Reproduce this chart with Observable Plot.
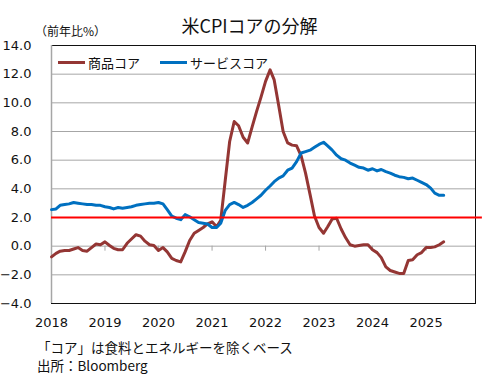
<!DOCTYPE html>
<html>
<head>
<meta charset="utf-8">
<script src="https://cdn.jsdelivr.net/npm/d3@7"></script>
<script src="https://cdn.jsdelivr.net/npm/@observablehq/plot@0.6"></script>
<style>
  html, body { margin: 0; padding: 0; background: #fff; }
  #wrap { position: relative; width: 499px; height: 381px; overflow: hidden;
          font-family: "DejaVu Sans", "Noto Sans CJK JP", sans-serif; color: #111; }
  .abs { position: absolute; white-space: nowrap; line-height: 1; }
  #title { left: 0; width: 499px; text-align: center; top: 16px; font-size: 18px; font-family: "Noto Sans CJK JP", sans-serif; }
  #unit { left: 35px; top: 25px; font-size: 12px; font-family: "Noto Sans CJK JP", sans-serif; }
  #cap1 { left: 37px; top: 341px; font-size: 13.5px; font-family: "Noto Sans CJK JP", sans-serif; }
  #cap2 { left: 37px; top: 359px; font-size: 13.5px; font-family: "Noto Sans CJK JP", "DejaVu Sans", sans-serif; }
  .leg { top: 56px; font-size: 13px; font-family: "Noto Sans CJK JP", sans-serif; display: flex; align-items: center; }
  .sw { display: inline-block; width: 27px; height: 3px; margin-right: 3px; }
</style>
</head>
<body>
<div id="wrap">
  <div id="chart"></div>
  <div class="abs" id="title">米CPIコアの分解</div>
  <div class="abs" id="unit">（前年比%）</div>
  <div class="abs leg" id="leg1" style="left:58px"><span class="sw" style="background:#943634"></span><span>商品コア</span></div>
  <div class="abs leg" id="leg2" style="left:160px"><span class="sw" style="background:#0070C0"></span><span>サービスコア</span></div>
  <div class="abs" id="cap1">「コア」は食料とエネルギーを除くベース</div>
  <div class="abs" id="cap2">出所：Bloomberg</div>
</div>
<script>
// Monthly data, Jan 2018 – May 2025 (year-over-year %)
const startMonth = "2018-01";
const endMonth = "2025-05";
const goodsCore = [
  -0.75, -0.5, -0.35, -0.3, -0.3, -0.2, -0.1, -0.3, -0.35, -0.1, 0.15, 0.1,
  0.3, 0.05, -0.15, -0.25, -0.25, 0.2, 0.5, 0.8, 0.7, 0.35, 0.1, 0.05,
  -0.3, -0.1, -0.4, -0.85, -1.0, -1.1, -0.4, 0.4, 0.9, 1.1, 1.3, 1.55,
  1.7, 1.35, 1.8, 4.6, 7.3, 8.7, 8.4, 7.6, 7.2, 8.3, 9.4, 10.4,
  11.5, 12.3, 11.6, 9.8, 8.0, 7.2, 7.05, 7.0, 6.3, 5.1, 3.6, 2.1,
  1.3, 0.9, 1.35, 1.9, 1.95, 1.2, 0.6, 0.1, 0.0, 0.05, 0.1, 0.1,
  -0.25, -0.45, -0.8, -1.45, -1.7, -1.8, -1.9, -1.9, -1.0, -0.95, -0.6, -0.45,
  -0.1, -0.1, -0.05, 0.1, 0.3
];
const servicesCore = [
  2.55, 2.6, 2.85, 2.9, 2.95, 3.05, 3.0, 2.95, 2.9, 2.9, 2.85, 2.85,
  2.75, 2.7, 2.6, 2.7, 2.65, 2.7, 2.75, 2.85, 2.9, 2.95, 3.0, 3.0,
  3.05, 2.95, 2.55, 2.1, 1.95, 1.85, 2.2, 2.05, 1.85, 1.65, 1.6, 1.55,
  1.3, 1.3, 1.6, 2.5, 2.9, 3.05, 2.9, 2.7, 2.85, 3.05, 3.3, 3.55,
  3.9, 4.2, 4.5, 4.75, 4.9, 5.3, 5.45, 5.9, 6.5, 6.6, 6.7, 6.9,
  7.1, 7.25, 7.0, 6.7, 6.35, 6.1, 6.0, 5.8, 5.65, 5.5, 5.45, 5.3,
  5.4, 5.25, 5.35, 5.2, 5.1, 4.95, 4.85, 4.8, 4.7, 4.75, 4.6, 4.45,
  4.3, 4.05, 3.7, 3.55, 3.55
];
const seriesNames = ["商品コア", "サービスコア"];
const seriesColors = ["#943634", "#0070C0"];
const yTicks = [-4, -2, 0, 2, 4, 6, 8, 10, 12, 14];
const yearLabels = ["2018", "2019", "2020", "2021", "2022", "2023", "2024", "2025"];
const threshold = 2;

const parseM = d3.utcParse("%Y-%m");
const months = d3.utcMonth.range(parseM(startMonth), d3.utcMonth.offset(parseM(endMonth), 1));
const rows = [];
months.forEach((m, i) => {
  rows.push({date: m, value: goodsCore[i], series: seriesNames[0]});
  rows.push({date: m, value: servicesCore[i], series: seriesNames[1]});
});
const yearDates = yearLabels.map(y => new Date(Date.UTC(+y, 0, 1)));
const xStart = yearDates[0];
const xEnd = new Date(Date.UTC(2025, 11, 4));
const ruleEnd = new Date(Date.UTC(2026, 0, 20));

const chart = Plot.plot({
  width: 499,
  height: 381,
  marginLeft: 51,
  marginRight: 24,
  marginTop: 45,
  marginBottom: 78,
  style: {fontFamily: "'DejaVu Sans', 'Noto Sans CJK JP', sans-serif", fontSize: "13px", color: "#111", background: "transparent"},
  x: {type: "utc", domain: [xStart, xEnd]},
  y: {domain: [-4, 14]},
  color: {domain: seriesNames, range: seriesColors},
  marks: [
    Plot.gridY(yTicks, {stroke: "#a6a6a6", strokeOpacity: 1, strokeWidth: 1}),
    Plot.ruleX(yearDates.slice(1), {y1: 0, y2: -0.35, stroke: "#a6a6a6", strokeWidth: 1}),
    Plot.frame({stroke: "#111", strokeWidth: 1}),
    Plot.ruleX([xStart], {stroke: "#a6a6a6", strokeWidth: 1.5}),
    Plot.axisY(yTicks, {tickSize: 0, tickPadding: 20, tickFormat: d3.format(".1f"), label: null, fill: "#111"}),
    Plot.axisX(yearDates, {tickSize: 0, tickPadding: 14, tickFormat: d3.utcFormat("%Y"), label: null, fill: "#111"}),
    Plot.line(rows, {x: "date", y: "value", z: "series", stroke: "series", strokeWidth: 3, curve: "linear"}),
    Plot.ruleY([threshold], {x1: xStart, x2: ruleEnd, stroke: "#ff0000", strokeWidth: 2})
  ]
});
document.getElementById("chart").appendChild(chart);
</script>
</body>
</html>
